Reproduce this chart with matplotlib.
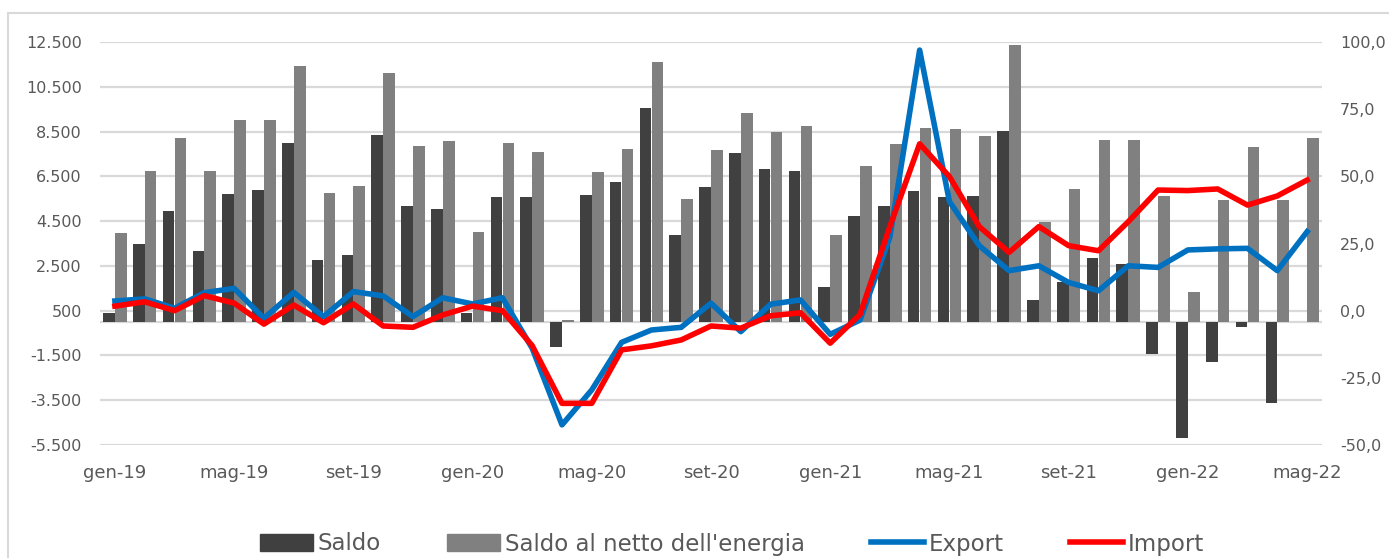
import numpy as np
import matplotlib
matplotlib.use("Agg")
import matplotlib.pyplot as plt
from matplotlib.patches import Rectangle
from matplotlib.lines import Line2D
from matplotlib.patches import Patch

# monthly data gen-19 .. mag-22
months = ["gen-19", "feb-19", "mar-19", "apr-19", "mag-19", "giu-19", "lug-19", "ago-19",
          "set-19", "ott-19", "nov-19", "dic-19", "gen-20", "feb-20", "mar-20", "apr-20",
          "mag-20", "giu-20", "lug-20", "ago-20", "set-20", "ott-20", "nov-20", "dic-20",
          "gen-21", "feb-21", "mar-21", "apr-21", "mag-21", "giu-21", "lug-21", "ago-21",
          "set-21", "ott-21", "nov-21", "dic-21", "gen-22", "feb-22", "mar-22", "apr-22",
          "mag-22"]

saldo = [400, 3480, 4940, 3180, 5700, 5880, 7980, 2760,
         2970, 8350, 5180, 5040, 400, 5580, 5590, -1130,
         5670, 6230, 9540, 3870, 6010, 7560, 6830, 6750,
         1560, 4730, 5160, 5840, 5590, 5640, 8540, 980,
         1800, 2850, 2600, -1420, -5170, -1780, -240, -3640,
         np.nan]

saldo_netto = [3980, 6730, 8200, 6730, 9030, 9030, 11420, 5770,
               6060, 11120, 7840, 8080, 4000, 7990, 7570, 90,
               6680, 7720, 11590, 5480, 7680, 9320, 8480, 8750,
               3880, 6950, 7960, 8680, 8600, 8290, 12370, 4480,
               5920, 8110, 8120, 5620, 1350, 5460, 7810, 5440,
               8230]

export = [3.6, 4.4, 0.9, 6.7, 8.3, -2.8, 6.8, -2.2,
          7.1, 5.5, -2.2, 4.8, 2.5, 4.8, -14.0, -42.5,
          -29.5, -11.8, -7.2, -6.2, 2.8, -7.8, 2.4, 4.0,
          -8.8, -3.5, 27.3, 97.0, 40.6, 24.2, 14.9, 16.7,
          10.5, 7.4, 16.7, 16.1, 22.6, 23.0, 23.2, 14.9,
          29.4]

import_ = [1.7, 3.3, 0.0, 5.6, 2.8, -5.0, 2.1, -4.5,
           2.5, -5.7, -6.2, -1.6, 1.7, 0.0, -13.0, -34.5,
           -34.5, -14.6, -13.1, -10.9, -5.7, -6.5, -1.9, -0.8,
           -12.1, -1.4, 31.3, 62.1, 49.9, 31.3, 21.7, 31.3,
           24.2, 22.3, 33.1, 44.9, 44.7, 45.3, 39.3, 42.7,
           48.6]

left_ticks = [-5500, -3500, -1500, 500, 2500, 4500, 6500, 8500, 10500, 12500]
right_ticks = [-50, -25, 0, 25, 50, 75, 100]

TXT = "#595959"
GRID = "#d9d9d9"

fig = plt.figure(figsize=(13.89, 5.58), dpi=100)
ax = fig.add_axes([100 / 1389, 1 - 445 / 558, 1222 / 1389, 403 / 558])
ax2 = ax.twinx()

x = np.arange(len(months))
w = 0.39
ax.bar(x - 0.2, saldo, width=w, color="#404040", zorder=2)
ax.bar(x + 0.2, saldo_netto, width=w, color="#808080", zorder=2)

ax2.plot(x, export, color="#0070C0", lw=4, solid_joinstyle="round")
ax2.plot(x, import_, color="#FF0000", lw=4, solid_joinstyle="round")

ax.set_xlim(-0.5, len(months) - 0.5)
ax.set_ylim(-5500, 12500)
ax2.set_ylim(-50, 100)

ax.set_yticks(left_ticks)
ax.set_yticklabels([f"{v:,}".replace(",", ".") for v in left_ticks])
ax2.set_yticks(right_ticks)
ax2.set_yticklabels([f"{v:.1f}".replace(".", ",") for v in right_ticks])
ax.set_xticks(x[::4])
ax.set_xticklabels(months[::4])

for v in left_ticks:
    ax.axhline(v, color=GRID, lw=1.6, zorder=0)
ax.axhline(0, color=GRID, lw=1.6, zorder=1)

for a in (ax, ax2):
    for s in a.spines.values():
        s.set_visible(False)
ax.tick_params(axis="y", length=0, labelsize=11.5, labelcolor=TXT, pad=13)
ax.tick_params(axis="x", length=0, labelsize=13, labelcolor=TXT, pad=14)
ax2.tick_params(axis="y", length=0, labelsize=11.5, labelcolor=TXT, pad=13)

# outer chart frame
fig.patches.append(Rectangle((8 / 1389, -0.1), 1.2, 1 - 13 / 558 + 0.1,
                             transform=fig.transFigure, fill=False,
                             edgecolor=GRID, lw=1.5))

handles = [Patch(color="#404040"), Patch(color="#808080"),
           Line2D([], [], color="#0070C0", lw=4),
           Line2D([], [], color="#FF0000", lw=4)]
labels = ["Saldo", "Saldo al netto dell'energia", "Export", "Import"]
leg = fig.legend(handles, labels, loc="center", bbox_to_anchor=(732 / 1389, 1 - 544 / 558),
                 ncol=4, frameon=False, fontsize=16.5, handlelength=2.3,
                 handleheight=0.8, handletextpad=0.2, columnspacing=2.9)
for t in leg.get_texts():
    t.set_color(TXT)

fig.savefig("out.png", dpi=100)
